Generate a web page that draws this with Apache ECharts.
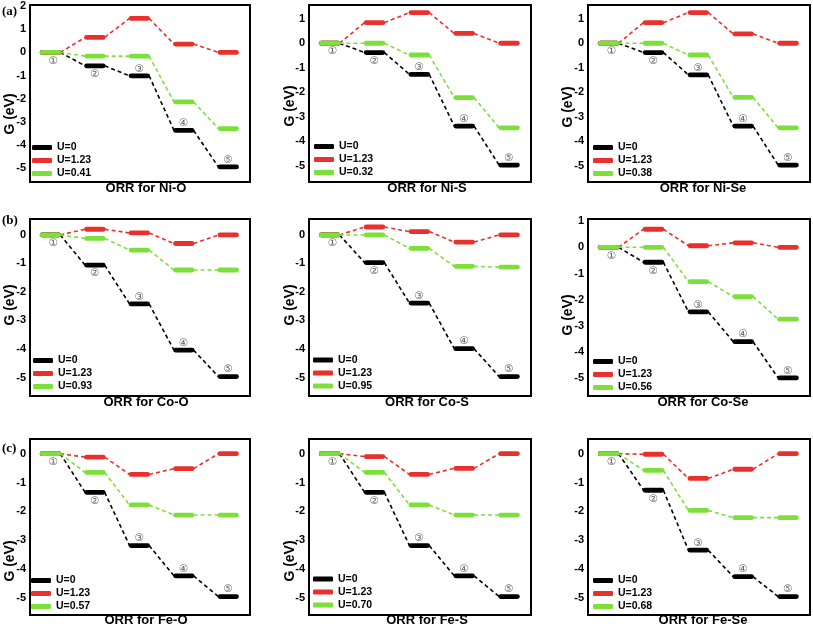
<!DOCTYPE html>
<html>
<head>
<meta charset="utf-8">
<script src="https://cdn.jsdelivr.net/npm/echarts@6/dist/echarts.min.js"></script>
<style>html,body{margin:0;padding:0;background:#fff;}#c{width:813px;height:628px;}</style>
</head>
<body>
<div id="c"></div>
<script>
// ---- data ----
const panelTitles = ['ORR for Ni-O','ORR for Ni-S','ORR for Ni-Se','ORR for Co-O','ORR for Co-S','ORR for Co-Se','ORR for Fe-O','ORR for Fe-S','ORR for Fe-Se'];
const limitLabels = ['U=0.41','U=0.32','U=0.38','U=0.93','U=0.95','U=0.56','U=0.57','U=0.70','U=0.68'];
const stepLabels = ['①','②','③','④','⑤'];
const yTickLabels = [
  [-5,-4,-3,-2,-1,0,1,2],
  [-5,-4,-3,-2,-1,0,1],
  [-5,-4,-3,-2,-1,0,1],
  [-5,-4,-3,-2,-1,0],
  [-5,-4,-3,-2,-1,0],
  [-5,-4,-3,-2,-1,0,1],
  [-5,-4,-3,-2,-1,0],
  [-5,-4,-3,-2,-1,0],
  [-5,-4,-3,-2,-1,0]
];
const yRanges = [[-5.6,2.05],[-5.66,1.56],[-5.66,1.56],[-5.65,0.56],[-5.65,0.56],[-5.67,1.08],[-5.6,0.51],[-5.6,0.51],[-5.6,0.51]];
// U = 0 (black)
const gU0 = [
  [0,-0.58,-1.01,-3.37,-4.95],
  [0,-0.38,-1.27,-3.38,-4.97],
  [0,-0.38,-1.29,-3.38,-4.97],
  [0,-1.06,-2.42,-4.04,-4.97],
  [0,-0.97,-2.39,-3.99,-4.97],
  [0,-0.57,-2.46,-3.60,-4.98],
  [0,-1.34,-3.19,-4.24,-4.96],
  [0,-1.34,-3.19,-4.24,-4.96],
  [0,-1.27,-3.35,-4.27,-4.96]
];
// U = 1.23 (red)
const gU123 = [
  [0,0.65,1.47,0.36,0],
  [0,0.84,1.25,0.40,0],
  [0,0.84,1.25,0.38,0],
  [0,0.20,0.07,-0.30,0],
  [0,0.28,0.12,-0.25,0],
  [0,0.69,0.06,0.17,0],
  [0,-0.12,-0.72,-0.52,0],
  [0,-0.10,-0.72,-0.51,0],
  [0,-0.02,-0.86,-0.54,0]
];
// U = limiting potential (green)
const gUlim = [
  [0,-0.16,-0.16,-2.14,-3.29],
  [0,0,-0.48,-2.22,-3.45],
  [0,0,-0.48,-2.21,-3.45],
  [0,-0.12,-0.53,-1.23,-1.23],
  [0,0,-0.47,-1.10,-1.13],
  [0,0,-1.31,-1.88,-2.74],
  [0,-0.65,-1.78,-2.13,-2.13],
  [0,-0.65,-1.78,-2.13,-2.13],
  [0,-0.58,-1.97,-2.22,-2.22]
];

// ---- layout ----
const colors = ['#000000','#e8302c','#7de03a'];
const gridRects = [
  [30,5,220,177],[309,5,222,177],[588,5,222,177],
  [30,219,220,177],[309,219,222,177],[588,219,222,177],
  [30,439,220,176],[309,439,222,176],[588,439,222,176]
];
const legendPos = [[32,141],[314,140],[593,141],[33,354],[313,353.5],[593,355],[31,574],[313,572.5],[593,574]];
const titlePos = [[146,182],[427,182],[703,182],[146,396],[427,396],[703,396],[146,614],[427,614],[703,614]];
const yNamePos = [[10,114],[290,106],[568,107],[10,305],[290,305],[568,315],[10,561],[290,561]];
const FONT = 'Liberation Sans, Arial, sans-serif';

function makeRender(withSteps){
  return function(params, api){
    const i = api.value(0), v = api.value(1), pv = api.value(2);
    const color = api.visual('color');
    const a = api.coord([i+0.24, v]);
    const b = api.coord([i+0.68, v]);
    const children = [];
    if (i > 0) {
      const p = api.coord([i-1+0.68, pv]);
      children.push({type:'line', shape:{x1:p[0], y1:p[1], x2:a[0], y2:a[1]},
        style:{stroke:color, lineWidth:1.6, lineDash:[4,3]}});
    }
    children.push({type:'line', shape:{x1:a[0]+1.5, y1:a[1], x2:b[0]-1.5, y2:b[1]},
      style:{stroke:color, lineWidth:4.8, lineCap:'round'}});
    if (withSteps) {
      const cx = (a[0]+b[0])/2;
      const cy = i < 2 ? a[1]+8.5 : a[1]-7;
      children.push({type:'text', x: cx + (i===0?3:0), y: cy,
        style:{text: stepLabels[i], fill:'#5e5e5e', fontSize:10.5, fontFamily:'DejaVu Sans',
          align:'center', verticalAlign:'middle'}});
    }
    return {type:'group', children};
  };
}

const grid = [], xAxis = [], yAxis = [], series = [], legend = [], title = [];
gridRects.forEach((r,k) => {
  grid.push({left:r[0], top:r[1], width:r[2], height:r[3], show:true, borderColor:'#000', borderWidth:2, containLabel:false});
  xAxis.push({type:'value', gridIndex:k, min:0, max:4.95, show:false});
  yAxis.push({type:'value', gridIndex:k, min:yRanges[k][0], max:yRanges[k][1],
    axisLine:{show:false}, axisTick:{show:false}, splitLine:{show:false},
    axisLabel:{customValues:yTickLabels[k], margin:4, color:'#000', fontWeight:'bold', fontSize:11, fontFamily:FONT}});
  const names = ['U=0','U=1.23',limitLabels[k]];
  [gU0[k], gU123[k], gUlim[k]].forEach((arr,s) => {
    series.push({type:'custom', name:names[s], xAxisIndex:k, yAxisIndex:k,
      itemStyle:{color:colors[s]}, clip:false, animation:false,
      encode:{x:0, y:1},
      data: arr.map((v,i) => [i, v, i>0 ? arr[i-1] : v]),
      renderItem: makeRender(s===0)});
  });
  legend.push({orient:'vertical', left:legendPos[k][0], top:legendPos[k][1], padding:0, itemGap:0,
    itemWidth:20, itemHeight:5, icon:'roundRect', selectedMode:false,
    textStyle:{fontSize:10.5, fontWeight:'bold', color:'#000', fontFamily:FONT, lineHeight:13},
    data: names.map((n,s) => ({name:n, itemStyle:{color:colors[s]}}))});
  title.push({text:panelTitles[k], left:titlePos[k][0], top:titlePos[k][1], textAlign:'center', padding:0,
    textStyle:{fontSize:13, fontWeight:'bold', color:'#000', fontFamily:FONT}});
});

const graphic = [];
yNamePos.forEach(p => {
  graphic.push({type:'text', x:p[0], y:p[1], rotation:Math.PI/2,
    style:{text:'G (eV)', fill:'#000', fontSize:14, fontWeight:'bold', fontFamily:FONT, align:'center', verticalAlign:'middle'}});
});
[['(a)',12],['(b)',221],['(c)',449]].forEach(t => {
  graphic.push({type:'text', x:2, y:t[1],
    style:{text:t[0], fill:'#000', fontSize:13, fontWeight:'bold', fontFamily:'Liberation Serif, Times New Roman, serif', align:'left', verticalAlign:'middle'}});
});

const chart = echarts.init(document.getElementById('c'));
chart.setOption({animation:false, backgroundColor:'#fff', grid, xAxis, yAxis, series, legend, title, graphic});
</script>
</body>
</html>
